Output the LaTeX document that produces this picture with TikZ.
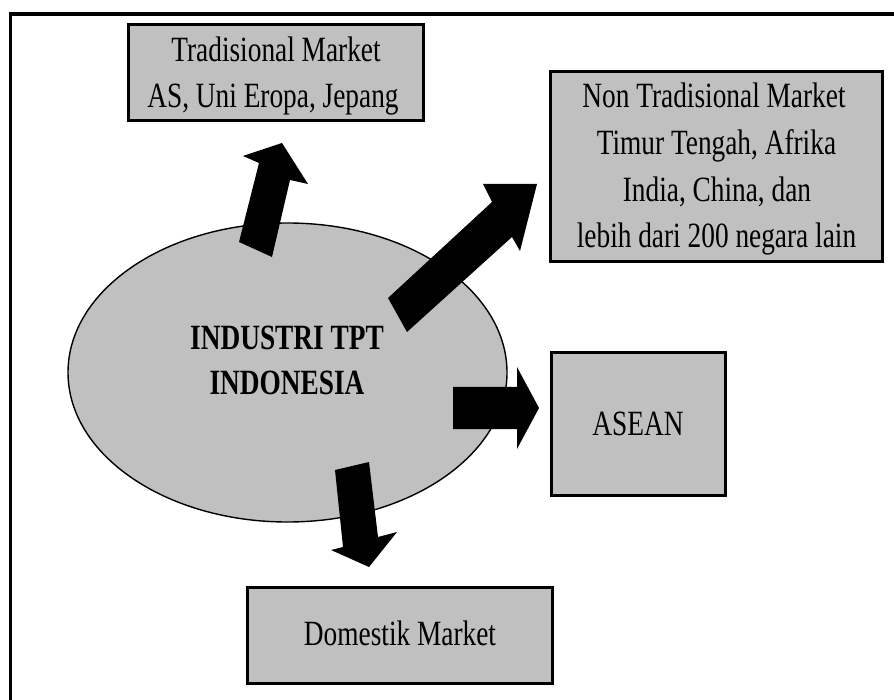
\documentclass[tikz,border=0pt]{standalone}
\usepackage{fontspec}
\usetikzlibrary{shapes.geometric}
\setmainfont{Liberation Serif}[FakeStretch=0.77]
\definecolor{boxgray}{RGB}{192,192,192}
\begin{document}
\begin{tikzpicture}[x=1pt,y=-1pt,
  boxnode/.style={draw=black, line width=3pt, fill=boxgray, rectangle, inner sep=0pt},
  txt/.style={anchor=base, inner sep=0pt, font=\fontsize{35.5}{46}\selectfont},
  btxt/.style={anchor=base, inner sep=0pt, font=\fontsize{35.5}{46}\selectfont\bfseries},
  blockarrow/.style={fill=black, draw=none}]
\useasboundingbox (0,0) rectangle (894,700);
\fill[white] (0,0) rectangle (894,700);
% frame (only left and top visible)
\draw[line width=3.5pt] (10.5,701) -- (10.5,14) -- (895,14);

% central ellipse
\node[draw=black, line width=1.4pt, fill=boxgray, ellipse, minimum width=439pt, minimum height=299pt, inner sep=0pt] (ind) at (287.5,372.5) {};
\node[btxt] (ind1) at (287,350) {INDUSTRI TPT};
\node[btxt] (ind2) at (287,395) {INDONESIA};

% arrows (block arrows)
\coordinate (upTail) at (255.5,249.5);
\coordinate (upTip) at (282,143);
\fill[blockarrow] (239,242) -- (259,163) -- (243,156) -- (upTip) -- (308,184) -- (290,180) -- (272,257) -- cycle;

\coordinate (neTail) at (397.5,315);
\coordinate (neTip) at (537,184);
\fill[blockarrow] (388,298) -- (492,202) -- (483,184) -- (neTip) -- (520,251) -- (512,237) -- (407,332) -- cycle;

\coordinate (rTail) at (453,408);
\coordinate (rTip) at (539,408);
\fill[blockarrow] (453,387) -- (517,387) -- (517,367) -- (rTip) -- (517,449) -- (517,429) -- (453,429) -- cycle;

\coordinate (dTail) at (352,466);
\coordinate (dTip) at (369,567);
\fill[blockarrow] (335,470) -- (343,547) -- (331,550) -- (dTip) -- (397,532) -- (378,537) -- (369,462) -- cycle;

% target boxes
\node[boxnode, minimum width=295pt, minimum height=96pt] (trad) at (275.5,73) {};
\node[txt] (trad1) at (276,62) {Tradisional Market};
\node[txt] (trad2) at (273,108) {AS, Uni Eropa, Jepang};

\node[boxnode, minimum width=332pt, minimum height=190pt] (nontrad) at (716,167) {};
\node[txt] (nt1) at (714,108) {Non Tradisional Market};
\node[txt] (nt2) at (716.5,155) {Timur Tengah, Afrika};
\node[txt] (nt3) at (717,202) {India, China, dan};
\node[txt] (nt4) at (716.5,248) {lebih dari 200 negara lain};

\node[boxnode, minimum width=174pt, minimum height=142pt] (asean) at (638,424) {};
\node[txt] (asean1) at (638,435) {ASEAN};

\node[boxnode, minimum width=305pt, minimum height=96pt] (dom) at (399.5,635) {};
\node[txt] (dom1) at (400,645) {Domestik Market};
\end{tikzpicture}
\end{document}
